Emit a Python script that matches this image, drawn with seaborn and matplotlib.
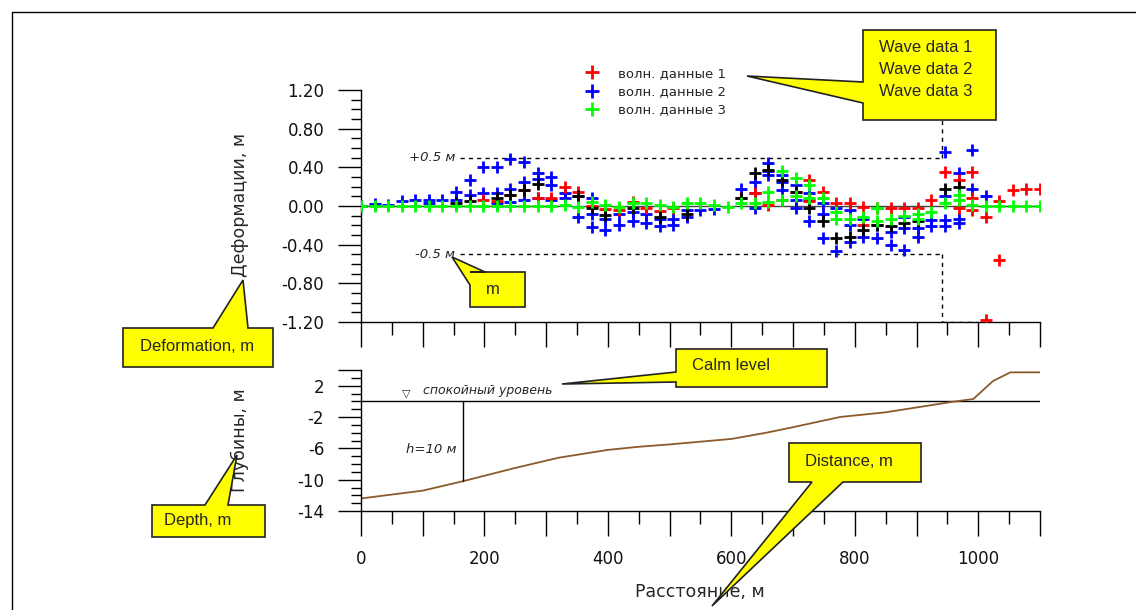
import numpy as np
import pandas as pd
import seaborn as sns
import matplotlib.pyplot as plt
from matplotlib.patches import Polygon, Rectangle
from matplotlib.lines import Line2D
from matplotlib.ticker import MultipleLocator, FixedLocator

# gauge positions along the profile, m
gauge_x = [0, 22, 44, 66, 88, 110, 132, 154, 176, 198, 220, 242, 264, 286, 308, 330, 352,
           374, 396, 418, 440, 462, 484, 506, 528, 550, 572, 594, 616, 638, 660, 682, 704,
           726, 748, 770, 792, 814, 836, 858, 880, 902, 924, 946, 968, 990, 1012, 1034,
           1056, 1078, 1100]

# wave data 3 (green) - main trace at every gauge
green_main = [0, 0, 0, 0, 0, 0, 0, 0, 0, 0, 0, 0, 0, 0, 0, 0.01, -0.01, 0.04, 0.01, -0.01,
              0.03, 0.03, 0.01, -0.01, 0.03, 0.03, 0.01, -0.01, 0.03, 0.03, 0.04, 0.06, 0.10,
              0.08, 0.08, -0.06, -0.13, -0.11, -0.02, -0.13, -0.10, -0.08, -0.06, 0.03, 0.06,
              0.01, 0, 0, 0, 0, 0]
green_extra_x = [660, 682, 704, 726, 770, 836, 902, 968]
green_extra_y = [0.15, 0.36, 0.29, 0.22, -0.13, -0.15, -0.13, 0.11]

# wave data 2 (blue)
blue_x = [0, 22, 44, 66, 88, 110, 110, 132, 154, 154, 176, 176, 198, 198, 220, 220, 220,
          242, 242, 242, 264, 264, 264, 286, 286, 286, 308, 308, 308, 330, 330, 352, 352,
          374, 374, 374, 396, 396, 418, 418, 440, 440, 462, 462, 484, 484, 506, 506, 528,
          528, 550, 572, 616, 638, 638, 638, 660, 660, 660, 682, 682, 682, 704, 704, 704,
          726, 726, 726, 748, 748, 748, 770, 770, 792, 792, 792, 814, 814, 836, 836, 858,
          858, 880, 880, 880, 902, 902, 924, 924, 946, 946, 946, 946, 968, 968, 968, 990,
          990, 1012]
blue_y = [0.00, 0.02, 0.01, 0.05, 0.06, 0.06, 0.03, 0.06, 0.15, 0.06, 0.27, 0.11, 0.40, 0.13,
          0.40, 0.13, 0.03, 0.49, 0.18, 0.04, 0.46, 0.25, 0.06, 0.34, 0.28, 0.08, 0.30, 0.22,
          0.06, 0.13, 0.08, 0.10, -0.11, 0.08, -0.08, -0.22, -0.13, -0.25, -0.08, -0.20,
          -0.06, -0.16, -0.08, -0.18, -0.13, -0.21, -0.13, -0.20, -0.04, -0.11, -0.04, -0.03,
          0.18, 0.25, 0.13, -0.02, 0.44, 0.36, 0.32, 0.32, 0.25, 0.17, 0.22, 0.06, -0.02,
          0.13, 0.06, -0.16, 0.03, -0.08, -0.33, -0.02, -0.47, -0.04, -0.20, -0.37, -0.13,
          -0.32, -0.20, -0.33, -0.27, -0.40, -0.11, -0.23, -0.45, -0.23, -0.32, -0.14, -0.21,
          0.56, 0.10, -0.14, -0.21, 0.34, -0.13, -0.18, 0.58, 0.18, 0.10]

# wave data 1 (red)
red_x = [198, 220, 242, 264, 286, 308, 330, 352, 374, 396, 418, 440, 462, 484, 506, 616,
         638, 660, 682, 704, 726, 726, 748, 770, 792, 814, 814, 836, 858, 880, 902, 924,
         946, 968, 968, 990, 990, 990, 1012, 1012, 1034, 1034, 1056, 1078, 1100]
red_y = [0.06, 0.05, 0.11, 0.17, 0.08, 0.08, 0.20, 0.15, 0.00, -0.03, -0.04, 0.04, -0.02,
         -0.05, -0.02, 0.08, 0.13, 0.01, 0.06, 0.15, 0.27, 0.05, 0.15, 0.03, 0.03, -0.01,
         -0.20, -0.02, -0.02, -0.02, -0.02, 0.06, 0.35, 0.27, -0.02, 0.35, 0.08, -0.04,
         -0.11, -1.18, 0.05, -0.56, 0.17, 0.18, 0.18]

# unlabelled black trace
black_x = [154, 176, 220, 242, 264, 286, 352, 374, 396, 440, 484, 528, 616, 638, 660, 682,
           704, 726, 748, 770, 792, 814, 836, 858, 880, 902, 946, 968]
black_y = [0.03, 0.05, 0.08, 0.11, 0.17, 0.23, 0.10, -0.02, -0.09, -0.02, -0.11, -0.08, 0.08,
           0.34, 0.37, 0.27, 0.15, -0.02, -0.16, -0.33, -0.32, -0.25, -0.20, -0.21, -0.18,
           -0.15, 0.18, 0.20]

# bottom profile
depth_x = [0, 100, 165, 250, 320, 400, 450, 500, 600, 657, 700, 776, 850, 955, 992, 1024,
           1052, 1100]
depth_y = [-12.4, -11.4, -10.2, -8.5, -7.2, -6.2, -5.8, -5.5, -4.8, -4.0, -3.3, -2.0, -1.4,
           -0.1, 0.3, 2.6, 3.7, 3.7]

legend_labels = ['волн. данные 1', 'волн. данные 2', 'волн. данные 3']

sns.set_theme(style='white')
plt.rcParams['font.family'] = ['DejaVu Sans']

W, H = 1136, 610
fig = plt.figure(figsize=(W / 100, H / 100), dpi=100)


def fx(x):
    return x / W


def fy(y):
    return 1 - y / H


ax1 = fig.add_axes([fx(361), fy(322), fx(1040) - fx(361), fy(90) - fy(322)])
ax2 = fig.add_axes([fx(361), fy(511), fx(1040) - fx(361), fy(370) - fy(511)])
for ax in (ax1, ax2):
    ax.set_facecolor('white')
    for s in ['top', 'right']:
        ax.spines[s].set_visible(False)
    for s in ['left', 'bottom']:
        ax.spines[s].set_color('black')
        ax.spines[s].set_linewidth(1)
    ax.set_xlim(0, 1100)

mk = dict(marker='+', s=85, linewidth=2, legend=False)
sns.scatterplot(x=blue_x, y=blue_y, color='#0000ff', ax=ax1, zorder=3, **mk)
sns.scatterplot(x=red_x, y=red_y, color='#ff0000', ax=ax1, zorder=4, **mk)
sns.scatterplot(x=black_x, y=black_y, color='black', ax=ax1, zorder=5, **mk)
sns.scatterplot(x=green_extra_x, y=green_extra_y, color='#00ff00', ax=ax1, zorder=6, **mk)
sns.scatterplot(x=gauge_x, y=green_main, color='#00ff00', ax=ax1, zorder=6, **mk)
ax1.axhline(0, color='#444444', lw=1, zorder=2)

ax1.set_ylim(-1.2, 1.2)
ax1.yaxis.set_major_locator(FixedLocator([-1.2, -0.8, -0.4, 0, 0.4, 0.8, 1.2]))
ax1.yaxis.set_minor_locator(MultipleLocator(0.1))
ax1.set_yticklabels(['-1.20', '-0.80', '-0.40', '0.00', '0.40', '0.80', '1.20'])
ax1.xaxis.set_major_locator(MultipleLocator(100))
ax1.xaxis.set_minor_locator(MultipleLocator(50))
ax1.tick_params(axis='y', which='major', direction='out', length=16.5, width=1, color='black',
                left=True, labelsize=12, pad=10, labelcolor='#111111')
ax1.tick_params(axis='y', which='minor', direction='out', length=7, width=1, color='black', left=True)
ax1.tick_params(axis='x', which='major', direction='out', length=18, width=1, color='black',
                bottom=True, labelbottom=False)
ax1.tick_params(axis='x', which='minor', direction='out', length=9, width=1, color='black', bottom=True)
ax1.set_xlabel('')
ax1.set_ylabel('')

# +-0.5 m guide lines
dash = dict(color='black', lw=1, dashes=(3, 3), zorder=1)
ax1.plot([160, 941], [0.5, 0.5], **dash)
ax1.plot([160, 941], [-0.5, -0.5], **dash)
ax1.plot([941, 941], [0.5, 0.93], **dash)
ax1.plot([941, 941], [-0.5, -1.2], **dash)
ax1.plot([941, 1000], [-1.2, -1.2], **dash)
ax1.text(153, 0.5, '+0.5 м', ha='right', va='center', style='italic', fontsize=9.5)
ax1.text(153, -0.5, '-0.5 м', ha='right', va='center', style='italic', fontsize=9.5)

# lower panel: depth profile
ax2.axhline(0, color='black', lw=1)
sns.lineplot(x=depth_x, y=depth_y, color='#8b5a2b', lw=1.3, ax=ax2, sort=False, estimator=None)
ax2.plot([165, 165], [0, -10.2], color='black', lw=1)
ax2.text(155, -6.1, 'h=10 м', ha='right', va='center', style='italic', fontsize=9.5)
ax2.text(74, 0.4, '▽', ha='center', va='bottom', fontsize=8)
ax2.text(100, 0.5, 'спокойный уровень', ha='left', va='bottom', style='italic', fontsize=9)

ax2.set_ylim(-14, 4)
ax2.yaxis.set_major_locator(FixedLocator([-14, -10, -6, -2, 2, 4]))
ax2.set_yticklabels(['-14', '-10', '-6', '-2', '2', ''])
ax2.yaxis.set_minor_locator(MultipleLocator(1))
ax2.xaxis.set_major_locator(MultipleLocator(100))
ax2.xaxis.set_minor_locator(MultipleLocator(50))
ax2.set_xticklabels(['' if int(v) % 200 else str(int(v)) for v in ax2.get_xticks()])
ax2.tick_params(axis='y', which='major', direction='out', length=16.5, width=1, color='black',
                left=True, labelsize=12, pad=10, labelcolor='#111111')
ax2.tick_params(axis='y', which='minor', direction='out', length=7, width=1, color='black', left=True)
ax2.tick_params(axis='x', which='major', direction='out', length=18, width=1, color='black',
                bottom=True, labelsize=12, pad=10, labelcolor='#111111')
ax2.tick_params(axis='x', which='minor', direction='out', length=9, width=1, color='black', bottom=True)
ax2.set_xlabel('')
ax2.set_ylabel('')

fig.text(fx(240), fy(205), 'Деформации, м', rotation=90, ha='center', va='center', fontsize=12.5)
fig.text(fx(240), fy(440), 'Глубины, м', rotation=90, ha='center', va='center', fontsize=12.5)
fig.text(fx(700), fy(592), 'Расстояние, м', ha='center', va='center', fontsize=12.5)

# legend
handles = [Line2D([], [], ls='none', marker='+', ms=10, mew=2, color=c)
           for c in ['#ff0000', '#0000ff', '#00ff00']]
fig.legend(handles, legend_labels, loc='upper left', bbox_to_anchor=(fx(584), fy(67)),
           frameon=False, fontsize=9.5, handlelength=1.2, handletextpad=1.4, labelspacing=0.4,
           borderaxespad=0, borderpad=0)


# yellow callouts (pixel coordinates of the picture)
def callout(verts, lines, tx, ty, fs=12):
    pts = [(fx(x), fy(y)) for x, y in verts]
    fig.add_artist(Polygon(pts, closed=True, facecolor='#ffff00', edgecolor='#222222',
                           lw=1.2, transform=fig.transFigure, zorder=10))
    for i, t in enumerate(lines):
        fig.text(fx(tx), fy(ty + i * 22), t, ha='left', va='center', fontsize=fs,
                 family='Liberation Sans', zorder=11)


callout([(863, 30), (996, 30), (996, 120), (863, 120), (863, 103), (747, 76), (863, 82)],
        ['Wave data 1', 'Wave data 2', 'Wave data 3'], 879, 48)
callout([(123, 328), (213, 328), (243, 280), (248, 328), (273, 328), (273, 367), (123, 367)],
        ['Deformation, m'], 140, 346)
callout([(470, 272), (485, 272), (452, 257), (470, 285), (470, 307), (525, 307), (525, 272)],
        ['m'], 486, 290)
callout([(676, 349), (827, 349), (827, 387), (676, 387), (676, 382), (562, 384), (676, 372)],
        ['Calm level'], 692, 366)
callout([(152, 505), (205, 505), (237, 455), (228, 505), (265, 505), (265, 537), (152, 537)],
        ['Depth, m'], 164, 521)
callout([(789, 443), (921, 443), (921, 482), (843, 482), (712, 606), (812, 482), (789, 482)],
        ['Distance, m'], 805, 461)

# outer frame
fig.add_artist(Rectangle((fx(12), fy(H + 5)), fx(W + 5) - fx(12), fy(12) - fy(H + 5),
                         fill=False, edgecolor='black', lw=1, transform=fig.transFigure))

fig.savefig('out.png', dpi=100)
